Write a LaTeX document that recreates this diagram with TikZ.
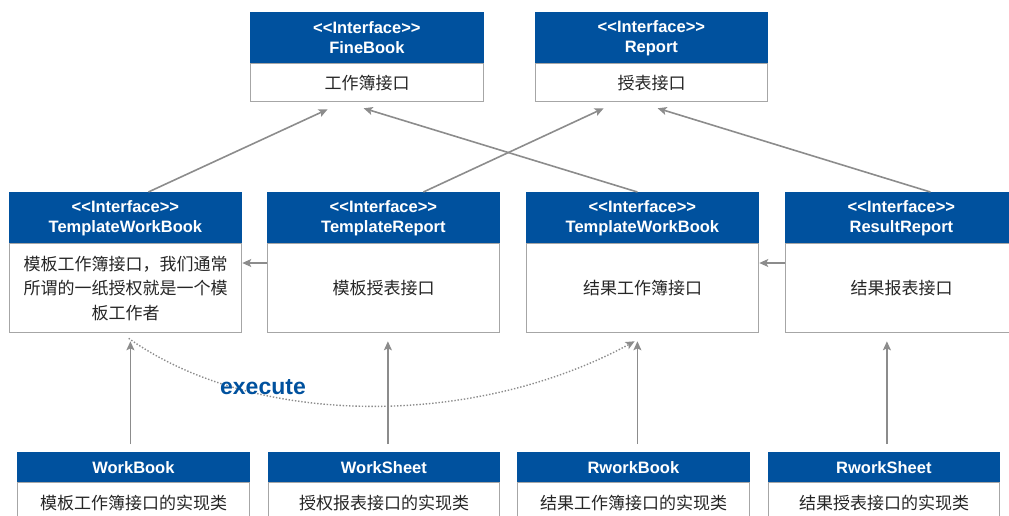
\documentclass[tikz,border=0pt]{standalone}
\usepackage{fontspec}
\setmainfont{Liberation Sans}
\newfontfamily\cjk{Noto Sans CJK SC}
\usetikzlibrary{arrows.meta,calc}
\definecolor{ublue}{HTML}{00519E}
\definecolor{bgray}{HTML}{A6A6A6}
\definecolor{agray}{HTML}{8C8C8C}
\newcommand{\ifc}{{<}{<}Interface{>}{>}}
\tikzset{
  hdr/.style={fill=ublue, draw=ublue, line width=0.8pt, text=white, anchor=north west, inner sep=0pt,
    font=\bfseries\fontsize{16.5}{20}\selectfont, align=center},
  bodybox/.style={fill=white, draw=bgray, line width=1.3pt, anchor=north west, inner sep=0pt,
    font=\cjk\fontsize{17}{24.5}\selectfont, align=center, text=black!85},
  link/.style={draw=agray, line width=1.6pt, -{Stealth[length=9pt,width=8pt,inset=2pt]}},
  execlink/.style={draw=agray, line width=1.4pt, dash pattern=on 1.4pt off 1.8pt, -{Stealth[length=9pt,width=8pt,inset=2pt]}},
}
\begin{document}
\begin{tikzpicture}[x=1pt,y=-1pt]
\useasboundingbox (0,0) rectangle (1009,515);
% top row
\node[hdr, minimum width=233pt, minimum height=51pt] (fbh) at (250,12) {\ifc\\FineBook};
\node[bodybox, minimum width=233pt, minimum height=38pt] (fbb) at (250,63) {工作簿接口};
\node[hdr, minimum width=232pt, minimum height=51pt] (rph) at (535,12) {\ifc\\Report};
\node[bodybox, minimum width=232pt, minimum height=38pt] (rpb) at (535,63) {授表接口};
% middle row
\node[hdr, minimum width=232pt, minimum height=51pt] (m1h) at (9,192) {\ifc\\TemplateWorkBook};
\node[bodybox, minimum width=232pt, minimum height=89pt] (m1b) at (9,243) {模板工作簿接口，我们通常\\所谓的一纸授权就是一个模\\板工作者};
\node[hdr, minimum width=232pt, minimum height=51pt] (m2h) at (267,192) {\ifc\\TemplateReport};
\node[bodybox, minimum width=232pt, minimum height=89pt] (m2b) at (267,243) {模板授表接口};
\node[hdr, minimum width=232pt, minimum height=51pt] (m3h) at (526,192) {\ifc\\TemplateWorkBook};
\node[bodybox, minimum width=232pt, minimum height=89pt] (m3b) at (526,243) {结果工作簿接口};
\node[hdr, minimum width=232pt, minimum height=51pt] (m4h) at (785,192) {\ifc\\ResultReport};
\node[bodybox, minimum width=232pt, minimum height=89pt] (m4b) at (785,243) {结果报表接口};
% bottom row
\node[hdr, minimum width=232pt, minimum height=30pt] (b1h) at (17,452) {WorkBook};
\node[bodybox, minimum width=232pt, minimum height=40pt] (b1b) at (17,482) {模板工作簿接口的实现类};
\node[hdr, minimum width=231pt, minimum height=30pt] (b2h) at (268,452) {WorkSheet};
\node[bodybox, minimum width=231pt, minimum height=40pt] (b2b) at (268,482) {授权报表接口的实现类};
\node[hdr, minimum width=232pt, minimum height=30pt] (b3h) at (517,452) {RworkBook};
\node[bodybox, minimum width=232pt, minimum height=40pt] (b3b) at (517,482) {结果工作簿接口的实现类};
\node[hdr, minimum width=231pt, minimum height=30pt] (b4h) at (768,452) {RworkSheet};
\node[bodybox, minimum width=231pt, minimum height=40pt] (b4b) at (768,482) {结果授表接口的实现类};
% generalisation links to top row
\draw[link] ([xshift=23pt]m1h.north) -- ([xshift=-39.5pt,yshift=-7pt]fbb.south);
\draw[link] ([xshift=-5pt]m3h.north) -- ([xshift=-3.5pt,yshift=-6pt]fbb.south);
\draw[link] ([xshift=40pt]m2h.north) -- ([xshift=-48pt,yshift=-6pt]rpb.south);
\draw[link] ([xshift=29pt]m4h.north) -- ([xshift=6pt,yshift=-6pt]rpb.south);
% horizontal links
\draw[link, line width=1.3pt] ([yshift=-20pt]m2b.north west) -- ([yshift=-20pt]m1b.north east);
\draw[link, line width=1.3pt] ([yshift=-20pt]m4b.north west) -- ([yshift=-20pt]m3b.north east);
% vertical links
\draw[link] ($(b1h.north)+(-3,-8)$) -- ($(m1b.south -| b1h.north)+(-3,8)$);
\draw[link] ($(b2h.north)+(4,-8)$) -- ($(m2b.south -| b2h.north)+(4,8)$);
\draw[link] ($(b3h.north)+(4,-8)$) -- ($(m3b.south -| b3h.north)+(4,8)$);
\draw[link] ($(b4h.north)+(3,-8)$) -- ($(m4b.south -| b4h.north)+(3,8)$);
% execute
\draw[execlink] ([xshift=3pt,yshift=-5pt]m1b.south) .. controls (255,428) and (475,428) .. ([xshift=-8pt,yshift=-8pt]m3b.south);
\node[text=ublue, font=\bfseries\fontsize{23}{26}\selectfont, inner sep=0pt] (exec) at (263,387) {execute};
\end{tikzpicture}
\end{document}
